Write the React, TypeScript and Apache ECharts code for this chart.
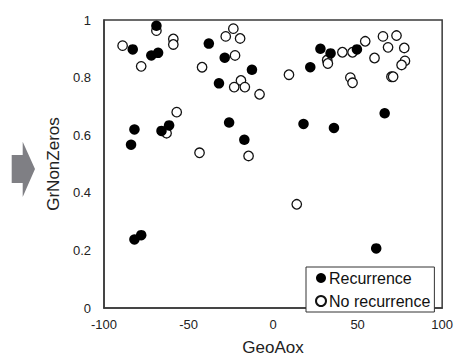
import React, { useEffect, useRef } from "react";
import * as echarts from "echarts";

const recurrenceX = [-83, -69, -72, -68, -38, -28.6, -12.5, -32, -82, -84, -66, -61.5, -26, -17, -82, -78, 22, 28, 34, 49.6, 18, 36, 66, 61];
const recurrenceY = [0.898, 0.98, 0.877, 0.886, 0.918, 0.869, 0.827, 0.78, 0.62, 0.567, 0.615, 0.634, 0.644, 0.584, 0.238, 0.253, 0.836, 0.9, 0.884, 0.898, 0.639, 0.625, 0.676, 0.207];

const noRecurrenceX = [-89, -78, -69, -59, -59, -42, -23.5, -28, -19.5, -22.5, -19, -23, -16.7, -8, -57, -63, -43.5, -14.5, 9.4, 32, 32.4, 41, 47, 54.5, 60, 65, 73, 68, 77.6, 78, 76, 45.7, 47, 70, 71, 14];
const noRecurrenceY = [0.911, 0.839, 0.963, 0.934, 0.915, 0.836, 0.97, 0.943, 0.936, 0.877, 0.79, 0.767, 0.767, 0.742, 0.68, 0.607, 0.539, 0.528, 0.81, 0.861, 0.849, 0.888, 0.888, 0.926, 0.868, 0.943, 0.946, 0.905, 0.903, 0.858, 0.844, 0.8, 0.782, 0.803, 0.803, 0.36];

const seriesNames = ["Recurrence", "No recurrence"];
const xTitle = "GeoAox";
const yTitle = "GrNonZeros";

const FONT = "'Liberation Sans', Arial, sans-serif";

export default function App() {
  const ref = useRef<HTMLDivElement>(null);
  useEffect(() => {
    if (!ref.current) return;
    const chart = echarts.init(ref.current, null, { renderer: "svg" });
    const zip = (xs: number[], ys: number[]) => xs.map((x, i) => [x, ys[i]]);
    chart.setOption({
      animation: false,
      textStyle: { fontFamily: FONT },
      grid: {
        left: 104,
        right: 12,
        top: 20,
        bottom: 48,
        show: true,
        borderColor: "#3a3a3a",
        borderWidth: 1.5,
      },
      xAxis: {
        type: "value",
        min: -100,
        max: 100,
        interval: 50,
        name: xTitle,
        nameLocation: "middle",
        nameGap: 31,
        nameTextStyle: { fontSize: 17, color: "#222", fontFamily: FONT },
        axisLine: { show: true, onZero: false, lineStyle: { color: "#3a3a3a", width: 1.5 } },
        axisTick: { show: false },
        splitLine: { show: false },
        axisLabel: { fontSize: 13, color: "#222", margin: 10, fontFamily: FONT },
      },
      yAxis: {
        type: "value",
        min: 0,
        max: 1,
        interval: 0.2,
        name: yTitle,
        nameLocation: "middle",
        nameGap: 35,
        nameRotate: 90,
        nameTextStyle: { fontSize: 17, color: "#222", fontFamily: FONT },
        axisLine: { show: true, onZero: false, lineStyle: { color: "#3a3a3a", width: 1.5 } },
        axisTick: { show: false },
        splitLine: { show: false },
        axisLabel: { fontSize: 13, color: "#222", margin: 13, fontFamily: FONT },
      },
      legend: {
        data: seriesNames,
        orient: "vertical",
        left: 306,
        top: 267,
        padding: [3, 4, 3, 9],
        itemWidth: 10,
        itemHeight: 10,
        itemGap: 7,
        icon: "circle",
        borderColor: "#333",
        borderWidth: 1,
        backgroundColor: "#fff",
        textStyle: { fontSize: 16, color: "#111", fontFamily: FONT, padding: [0, 0, 0, -2] },
      },
      graphic: [
        {
          type: "polygon",
          shape: {
            points: [
              [11.7, 155],
              [22.7, 155],
              [22.7, 141.7],
              [35, 169],
              [22.7, 197],
              [22.7, 183],
              [11.7, 183],
            ],
          },
          style: { fill: "#7f7f84" },
        },
      ],
      series: [
        {
          name: seriesNames[1],
          type: "scatter",
          symbol: "circle",
          symbolSize: 9.5,
          data: zip(noRecurrenceX, noRecurrenceY),
          itemStyle: { color: "#fff", borderColor: "#111", borderWidth: 1.3, opacity: 1 },
          z: 2,
        },
        {
          name: seriesNames[0],
          type: "scatter",
          symbol: "circle",
          symbolSize: 10.5,
          data: zip(recurrenceX, recurrenceY),
          itemStyle: { color: "#000", opacity: 1 },
          z: 3,
        },
      ],
    });
    return () => chart.dispose();
  }, []);
  return <div ref={ref} style={{ width: 456, height: 361, position: "absolute", left: 0, top: 0 }} />;
}
